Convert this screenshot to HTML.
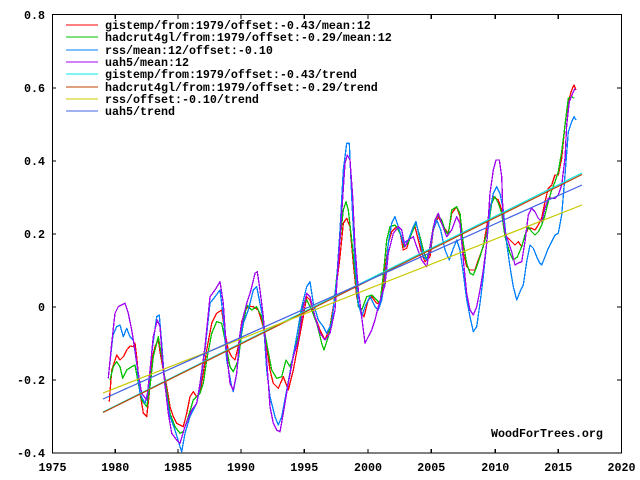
<!DOCTYPE html>
<html><head><meta charset="utf-8"><style>
html,body{margin:0;padding:0;background:#fff;}
svg{display:block;}
text{font-family:"Liberation Mono","DejaVu Sans Mono",monospace;font-weight:bold;font-size:11.67px;fill:#000;}
</style></head><body>
<svg width="640" height="480" viewBox="0 0 640 480" xmlns="http://www.w3.org/2000/svg">
<rect width="640" height="480" fill="#fff"/>
<g fill="none" stroke-width="1.3" stroke-linejoin="round" shape-rendering="crispEdges">
<polyline stroke="#ff0000" points="109.3,401.7 111.7,370 116.7,355 120,360 123.3,356.7 126.7,350 130,346 133.3,346.7 135,343 136.7,356.7 140,393 143.3,413 146.7,416.7 149.3,393 151.7,360 155,346.7 158.3,340 160,351.7 163.3,370 166.7,386.7 170,406.7 173.3,416.7 176.7,423.3 180,425 183.3,426.7 186.7,413.3 190,396.7 193.3,391.7 196.7,396.7 200,393.3 203.3,373.3 206.7,350 211.7,323.3 216.7,313.3 221.7,310 225,333 228.3,350 231.7,356.7 235,360 238.3,346.7 241.7,322 245,311 248.3,306 253.3,306.7 258.3,310 263.3,326.7 266.7,346.7 270,370 273.3,383.3 278.3,388.3 283.3,376.7 288.3,390 293.3,370 298.3,343.3 303.3,316.7 306.7,296.7 310,300 315,316.7 320,330 325,340 330,326.7 335,296.7 340,256.7 343.3,223.3 346.7,218.3 350,226.7 353.3,263.3 356.7,296.7 360,310 364,316.7 368.3,300 371.7,296.7 376.7,303.3 380,303 383.3,283.3 388.3,243.3 391.7,231.7 396.7,226.7 400,231.7 403.3,250 406.7,248.3 411.7,231.7 415,226.7 418.3,240 421.7,253.3 425,261.7 430,256.7 433.3,230 438.3,216.7 443.3,226.7 448.3,233.3 451.7,213.3 456.7,206.7 460,216.7 463.3,253.3 466.7,266.7 470,270 475,270 478.3,260 483.3,246.7 486.7,226.7 490,206.7 493.3,196.7 498.3,200 501.7,210 506,236 508.3,238.3 511.7,241.7 515,245 518.3,241.7 521.7,246.7 525,235 528.3,228.3 531.7,228.3 535,230 538.3,225 541.7,218.3 545,201.7 548.3,188.3 551.7,185 555,175 558.3,175 561.7,158.3 565,125 568.3,101.7 571.7,90 574,85 576,90"/>
<polyline stroke="#00c000" points="110,380 113.3,366.7 116.7,361.7 120,366.7 122.7,378.3 126.7,370 131.7,366.7 135,365 138.3,383.3 141.7,400 146.7,406.7 150,386.7 153.3,356.7 158.3,336.7 161.7,356.7 165,380 170,413.3 175,426.7 180,433.3 183.3,431.7 188.3,416.7 193.3,400 200,393.3 203.3,383.3 206.7,360 211.7,333.3 216.7,321.7 221.7,323.3 225,340 230,366.7 233.3,371.7 238.3,360 241.7,333.3 246.7,305 251.7,310 256.7,306.7 261.7,316.7 266.7,343.3 271.7,370 276.7,378.3 281.7,376.7 286,360 290,366.7 293.3,356.7 298.3,336.7 303.3,303.3 306.7,300 311.7,310 316.7,323.3 321.7,343.3 324,350 328.3,336.7 333.3,310 336.7,276.7 340,240 343.3,210 346,201.7 348.3,210 351.7,240 355,273.3 358.3,306.7 361.7,310 366.7,296.7 371.7,295 376.7,300 380,303.3 383.3,275 386.7,240 390,226.7 395,225 398.3,230 401.7,236.7 404,246.7 408.3,243.3 411.7,233.3 416,223.3 420,236.7 423.3,250 426.7,260 430,246.7 433.3,226.7 437.3,215 441.7,220 445,230 448.3,235 451.7,210 456.7,206.7 460,213.3 463.3,243.3 466.7,263.3 470,273.3 473.3,275 476.7,266.7 480,256.7 485,240 488.3,226.7 491.7,203.3 495,196.7 498.3,203.3 501.7,213.3 505,236.7 510,253.3 513.3,260 517.3,257 521.7,246.7 525,235 528.3,226.7 531.7,231.7 535,235 538.3,231.7 541.7,225 545,215 548.3,201.7 551.7,190 555,181.7 558.3,171.7 561.7,151.7 565,125 568.3,98.3 571.7,96.7 574,98.3"/>
<polyline stroke="#0080ff" points="110,362 113,335 116.7,326.7 120,325 123.3,336.7 126.7,328.3 130,336.7 133.3,340 136.7,363.3 140,393.3 145,403.3 148.3,390 151.7,353.3 156.7,316.7 159.3,315 161.7,343.3 165,386.7 170,416.7 175,430 180,446.7 181.7,451.7 185,433.3 190,416.7 196.7,403.3 200,386.7 205,350 210,303.3 215,296.7 220,290 223.3,316.7 226.7,360 231.7,386.7 233.3,391.7 236.7,373.3 240,340 243.3,323.3 248.3,310 253.3,290 256.7,286.7 260,303.3 263.3,320 266.7,370 270,396.7 275,416.7 278.3,425 281.7,416.7 286.7,390 291.7,363.3 296.7,336.7 301.7,306.7 306.7,286.7 310,281.7 313.3,303.3 318.3,320 323.3,326.7 326.7,333.3 331.7,323.3 336.7,280 340,230 343.3,170 346.7,143.3 349.3,143.3 351.7,196.7 355,263.3 358.3,303.3 361.7,316.7 365,306.7 370,296.7 375,306.7 378.3,310 381.7,300 385,280 388.3,243.3 391.7,223.3 395,216.7 398.3,226.7 403.3,243.3 408.3,240 413.3,226.7 416,221.7 420,240 423.3,256.7 426.7,260 430,250 433.3,230 436.7,220 440.7,230 445,250 449.3,260 452.7,250 456.7,240 460,250 463.3,273.3 466.7,300 470,316.7 473.3,331.7 476.7,326.7 480,303.3 483.3,276.7 486.7,243.3 490,210 493.3,193.3 496.7,186.7 500,193.3 503.3,210 506.7,243.3 510,266.7 513.3,286.7 516.7,300 520,291.7 523.3,285 526.7,261.7 530,245 533.3,248.3 536.7,256.7 540,263.3 541.7,265 545,256.7 548.3,248.3 551.7,241.7 555,235 558.3,233.3 561.7,215 565,175 568.3,131.7 571.7,121.7 574,116.7 576,120"/>
<polyline stroke="#a000f0" points="108.3,378.3 111.7,343.3 115,313.3 118.3,306.7 121.7,305 125,303.3 128.3,313.3 131.7,330 135,350 138.3,373.3 141.7,393.3 146.7,400 150,370 153.3,336.7 157.3,320 160,326.7 163.3,370 168.3,413.3 171.7,433.3 176.7,440 180,443.3 185,426.7 191.7,410 196.7,403.3 200,383.3 205,346.7 210,296.7 215,290 220,281.7 223.3,303.3 226.7,353.3 230,383.3 233.3,390 236.7,373.3 240,333.3 243.3,316.7 246.7,303.3 251,290 255,273.3 257.3,271.7 260,290 263.3,316.7 266.7,360 270,406.7 273.3,423.3 276.7,430 280,431.7 283.3,413.3 288.3,383.3 293.3,356.7 298.3,340 303.3,306.7 306.7,293.3 310,296.7 315,316.7 320,333.3 325,340 330,333.3 335,310 338.3,263.3 341.7,213.3 345,163.3 347.3,155 350,160 352.7,196.7 355,246.7 358.3,290 361.7,316.7 365,343.3 368.3,336.7 371.7,330 375,320 378.3,306.7 381.7,295 385,285 388.3,253.3 393.3,233.3 398.3,226.7 401.7,230 405,246.7 408.3,240 413.3,236.7 416.7,246.7 421.7,260 426.7,266.7 431.7,236.7 435,220 438.3,213.3 441.7,223.3 446.7,236.7 451.7,230 456.7,216.7 460,223.3 463.3,260 466.7,293.3 470,310 473.3,315 476.7,306.7 480,290 483.3,270 486.7,243.3 490,193.3 493.3,170 496,160 499.3,160 501.7,176.7 503,215 505,231.7 508.3,241.7 511.7,251.7 515,265 518.3,263 521.7,261.7 525,241.7 528.3,215 531.7,208.3 535,211.7 538.3,218.3 541.7,221.7 545,208.3 548.3,198.3 555,198.3 558.3,195 561.7,185 565,158.3 566.7,125 569.3,101.7 572.7,93.3 575,88.3"/>
</g>
<g fill="none" stroke-width="1.2">
<line x1="103" y1="412" x2="582" y2="173" stroke="#00e8e8"/>
<line x1="103" y1="412.5" x2="582" y2="174.5" stroke="#c04000"/>
<line x1="103" y1="393" x2="582" y2="205" stroke="#c8c800"/>
<line x1="103" y1="399" x2="582" y2="185" stroke="#4060e0"/>
</g>
<g shape-rendering="crispEdges" stroke-width="1.4">
<line x1="66" y1="25" x2="98" y2="25" stroke="#ff0000"/>
<line x1="66" y1="37" x2="98" y2="37" stroke="#00c000"/>
<line x1="66" y1="50" x2="98" y2="50" stroke="#0080ff"/>
<line x1="66" y1="62" x2="98" y2="62" stroke="#a000f0"/>
<line x1="66" y1="74" x2="98" y2="74" stroke="#00e8e8"/>
<line x1="66" y1="87" x2="98" y2="87" stroke="#c04000"/>
<line x1="66" y1="99" x2="98" y2="99" stroke="#c8c800"/>
<line x1="66" y1="111" x2="98" y2="111" stroke="#4060e0"/>
</g>
<text x="105" y="29">gistemp/from:1979/offset:-0.43/mean:12</text>
<text x="105" y="41">hadcrut4gl/from:1979/offset:-0.29/mean:12</text>
<text x="105" y="54">rss/mean:12/offset:-0.10</text>
<text x="105" y="66">uah5/mean:12</text>
<text x="105" y="78">gistemp/from:1979/offset:-0.43/trend</text>
<text x="105" y="91">hadcrut4gl/from:1979/offset:-0.29/trend</text>
<text x="105" y="103">rss/offset:-0.10/trend</text>
<text x="105" y="115">uah5/trend</text>
<g stroke="#000" stroke-width="1.3" shape-rendering="crispEdges" fill="none">
<rect x="52.5" y="14.5" width="569" height="438.5"/>
<path d="M115.3,453v-4M115.3,15v4M178,453v-4M178,15v4M241,453v-4M241,15v4M304.3,453v-4M304.3,15v4M368,453v-4M368,15v4M431.3,453v-4M431.3,15v4M495.3,453v-4M495.3,15v4M558.3,453v-4M558.3,15v4"/>
<path d="M52,88h4M621,88h-4M52,161h4M621,161h-4M52,234h4M621,234h-4M52,307h4M621,307h-4M52,380h4M621,380h-4"/>
</g>
<g text-anchor="end">
<text x="45" y="19">0.8</text>
<text x="45" y="92">0.6</text>
<text x="45" y="165">0.4</text>
<text x="45" y="238">0.2</text>
<text x="45" y="311">0</text>
<text x="45" y="384">-0.2</text>
<text x="45" y="457">-0.4</text>
</g>
<g text-anchor="middle">
<text x="52.5" y="471">1975</text>
<text x="115.3" y="471">1980</text>
<text x="178" y="471">1985</text>
<text x="241" y="471">1990</text>
<text x="304.3" y="471">1995</text>
<text x="368" y="471">2000</text>
<text x="431.3" y="471">2005</text>
<text x="495.3" y="471">2010</text>
<text x="558.3" y="471">2015</text>
<text x="621.5" y="471">2020</text>
</g>
<text x="491" y="437">WoodForTrees.org</text>
</svg>
</body></html>
